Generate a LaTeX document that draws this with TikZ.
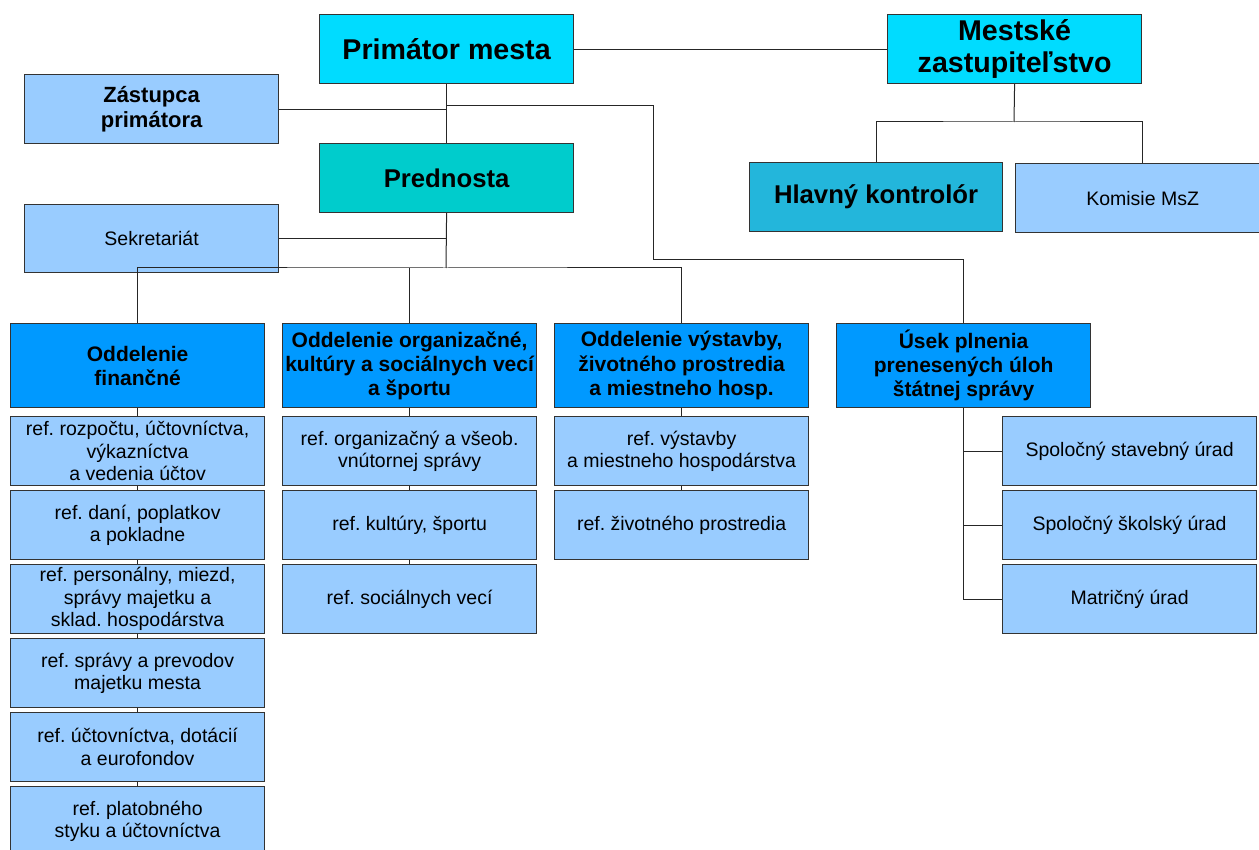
\documentclass[tikz,border=0pt]{standalone}
\usepackage{fontspec}
\setmainfont{Liberation Sans}
\frenchspacing
\definecolor{cyanbox}{HTML}{00DCFF}
\definecolor{tealbox}{HTML}{00CCCC}
\definecolor{ctrlbox}{HTML}{23B6DB}
\definecolor{lightbox}{HTML}{99CCFF}
\definecolor{deptbox}{HTML}{0099FF}
\begin{document}
\begin{tikzpicture}[x=1pt,y=-1pt,
  box/.style={draw=black!80, line width=1.2pt, align=center, inner sep=0pt,
    minimum width=254pt, minimum height=69pt, anchor=north west},
  small/.style={box, fill=lightbox, font=\frenchspacing\fontsize{19.5}{22.4}\selectfont},
  dept/.style={box, fill=deptbox, minimum height=84pt, font=\frenchspacing\bfseries\fontsize{21}{24.2}\selectfont},
  conn/.style={draw=black!85, line width=1pt}
]
\useasboundingbox (0,0) rectangle (1259,850);

% top level
\node[box, fill=cyanbox, font=\bfseries\fontsize{28.6}{32}\selectfont] (prim) at (319,14) {Primátor mesta};
\node[box, fill=cyanbox, font=\bfseries\fontsize{28.6}{32}\selectfont] (mz) at (887,14) {Mestské\\zastupiteľstvo};
\node[box, fill=lightbox, font=\bfseries\fontsize{22}{25}\selectfont] (zast) at (24,74) {Zástupca\\primátora};
\node[box, fill=tealbox, font=\bfseries\fontsize{25.7}{29}\selectfont] (pred) at (319,143) {Prednosta};
\node[small, minimum height=68pt] (sekr) at (24,204) {Sekretariát};
\node[box, fill=ctrlbox, minimum width=253pt, font=\bfseries\fontsize{25.7}{29}\selectfont] (hk) at (749,162) {Hlavný kontrolór};
\node[small] (kom) at (1015,163) {Komisie MsZ};

% departments
\node[dept] (of) at (10,323) {Oddelenie\\finančné};
\node[dept] (oo) at (282,323) {Oddelenie organizačné,\\kultúry a sociálnych vecí\\a športu};
\node[dept] (ov) at (554,323) {Oddelenie výstavby,\\životného prostredia\\a miestneho hosp.};
\node[dept] (ou) at (836,323) {Úsek plnenia\\prenesených úloh\\štátnej správy};

% finance column
\node[small] (f1) at (10,416) {ref. rozpočtu, účtovníctva,\\výkazníctva\\a vedenia účtov};
\node[small] (f2) at (10,490) {ref. daní, poplatkov\\a pokladne};
\node[small] (f3) at (10,564) {ref. personálny, miezd,\\správy majetku a\\sklad. hospodárstva};
\node[small] (f4) at (10,638) {ref. správy a prevodov\\majetku mesta};
\node[small] (f5) at (10,712) {ref. účtovníctva, dotácií\\a eurofondov};
\node[small] (f6) at (10,786) {ref. platobného\\styku a účtovníctva};

% organization column
\node[small] (o1) at (282,416) {ref. organizačný a všeob.\\vnútornej správy};
\node[small] (o2) at (282,490) {ref. kultúry, športu};
\node[small] (o3) at (282,564) {ref. sociálnych vecí};

% construction column
\node[small] (v1) at (554,416) {ref. výstavby\\a miestneho hospodárstva};
\node[small] (v2) at (554,490) {ref. životného prostredia};

% state administration column
\node[small] (u1) at (1002,416) {Spoločný stavebný úrad};
\node[small] (u2) at (1002,490) {Spoločný školský úrad};
\node[small] (u3) at (1002,564) {Matričný úrad};

% junction coordinates
\coordinate (jz) at (prim.south |- zast.east);
\coordinate (jb) at (653,106);
\coordinate (jb2) at (653,260);
\coordinate (jm) at (1014,122);
\coordinate (js) at (prim.south |- sekr.east);
\coordinate (jd) at (446,268);

% connectors
\draw[conn] (prim.east) -- (mz.west);
\draw[conn] (prim.south) -- (pred.north);
\draw[conn] (zast.east) -- (jz);
\draw[conn] (prim.south |- jb) -- (jb) -- (jb2) -| (ou.north);
\draw[conn] (mz.south) -- (jm);
\draw[conn] (hk.north) |- (jm) -| (kom.north);
\draw[conn] (sekr.east) -- (js);
\draw[conn] (pred.south) -- (jd);
\draw[conn] (of.north) |- (jd) -| (ov.north);
\draw[conn] (oo.north) -- (oo.north |- jd);

\draw[conn] (of.south) -- (f1.north);
\draw[conn] (f1.south) -- (f2.north);
\draw[conn] (f2.south) -- (f3.north);
\draw[conn] (f3.south) -- (f4.north);
\draw[conn] (f4.south) -- (f5.north);
\draw[conn] (f5.south) -- (f6.north);

\draw[conn] (oo.south) -- (o1.north);
\draw[conn] (o1.south) -- (o2.north);
\draw[conn] (o2.south) -- (o3.north);

\draw[conn] (ov.south) -- (v1.north);
\draw[conn] (v1.south) -- (v2.north);

\draw[conn] (ou.south) |- (u3.west);
\draw[conn] (ou.south |- u1.west) -- (u1.west);
\draw[conn] (ou.south |- u2.west) -- (u2.west);
\end{tikzpicture}
\end{document}
